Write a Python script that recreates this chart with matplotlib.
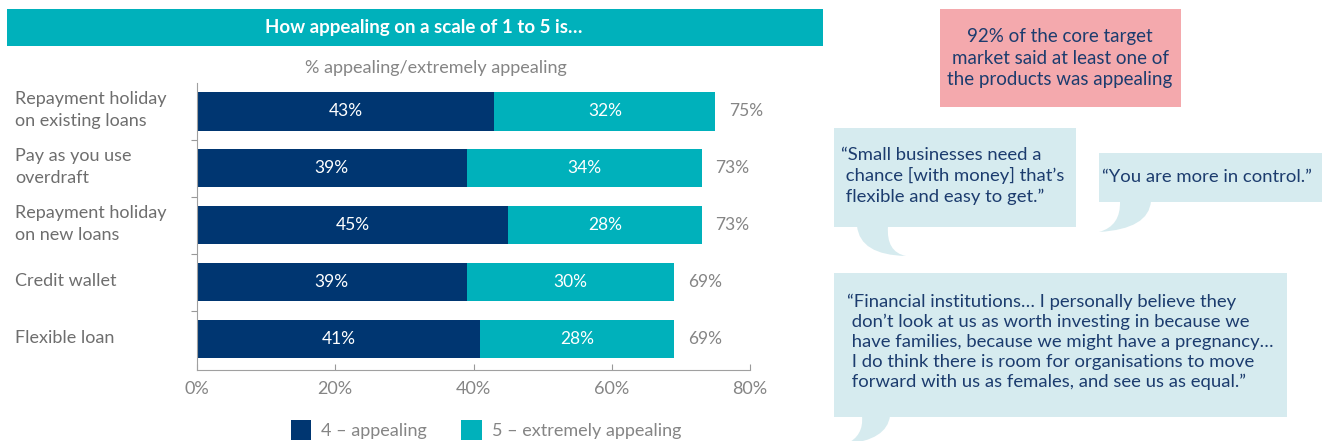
import matplotlib
matplotlib.use("Agg")
import matplotlib.pyplot as plt
from matplotlib.patches import Rectangle, PathPatch
from matplotlib.path import Path

plt.rcParams["font.family"] = ["Lato", "DejaVu Sans"]

# ---- data ----
categories = [
    "Repayment holiday\non existing loans",
    "Pay as you use\noverdraft",
    "Repayment holiday\non new loans",
    "Credit wallet",
    "Flexible loan",
]
appealing = [43, 39, 45, 39, 41]
extremely = [32, 34, 28, 30, 28]
totals = [75, 73, 73, 69, 69]
series_names = ["4 \u2013 appealing", "5 \u2013 extremely appealing"]
x_ticks = [0, 20, 40, 60, 80]

NAVY = "#003671"
TEAL = "#00B1BB"
BUBBLE = "#D6EBEF"
PINK = "#F4A9AD"
QUOTE = "#1C3C6E"
GREY = "#858585"
LABEL = "#6E6E6E"

W, H = 1322, 441
fig = plt.figure(figsize=(W / 100, H / 100), dpi=100)

# overlay in pixel coordinates for header, boxes and speech bubbles
ov = fig.add_axes([0, 0, 1, 1])
ov.set_xlim(0, W); ov.set_ylim(H, 0); ov.axis("off")

ov.add_patch(Rectangle((7, 9), 816, 37, facecolor=TEAL, edgecolor="none"))
ov.text(424, 27.5, "How appealing on a scale of 1 to 5 is\u2026", color="white",
        fontsize=13.5, fontweight="bold", ha="center", va="center")
ov.text(436, 68, "% appealing/extremely appealing", color=GREY, fontsize=13,
        ha="center", va="center")

# ---- bar chart ----
ax = fig.add_axes([197 / W, 1 - 370 / H, 553 / W, 287 / H])
ypos = list(range(len(categories)))
b1 = ax.barh(ypos, appealing, height=0.67, color=NAVY, label=series_names[0])
b2 = ax.barh(ypos, extremely, left=appealing, height=0.67, color=TEAL,
             label=series_names[1])
ax.bar_label(b1, labels=[f"{v}%" for v in appealing], label_type="center",
             color="white", fontsize=12.5)
ax.bar_label(b2, labels=[f"{v}%" for v in extremely], label_type="center",
             color="white", fontsize=12.5)
for y, a, e, t in zip(ypos, appealing, extremely, totals):
    ax.annotate(f"{t}%", (a + e, y), xytext=(10, 0), textcoords="offset points",
                va="center", ha="left", color=GREY, fontsize=12.5)

ax.set_xlim(0, 80)
ax.set_ylim(4.54, -0.5)
ax.set_xticks(x_ticks)
ax.set_xticklabels([f"{v}%" for v in x_ticks], color=GREY, fontsize=13)
ax.set_yticks([i + 0.5 for i in ypos[:-1]])
ax.set_yticklabels([])
ax.tick_params(axis="y", length=4, color="#999999")
ax.tick_params(axis="x", length=4, direction="in", color="#999999", pad=8)
for s in ("top", "right"):
    ax.spines[s].set_visible(False)
for s in ("left", "bottom"):
    ax.spines[s].set_color("#a0a0a0")
for y, c in zip(ypos, categories):
    ax.annotate(c, (0, y), xycoords=("figure fraction", "data"),
                xytext=(11, 1), textcoords="offset points",
                va="center", ha="left", color=LABEL, fontsize=13,
                linespacing=1.4)

fig.legend(handles=[b1, b2], loc="center", bbox_to_anchor=(486 / W, 1 - 430 / H),
           ncol=2, frameon=False, fontsize=13, labelcolor=GREY,
           handlelength=1.15, handleheight=1.3, handletextpad=0.55,
           columnspacing=1.9)

# ---- right-hand call-outs ----
ov.add_patch(Rectangle((940, 9), 241, 98, facecolor=PINK, edgecolor="none"))
ov.text(1060, 58, "92% of the core target\nmarket said at least one of\nthe products was appealing",
        color=QUOTE, fontsize=13.5, ha="center", va="center", linespacing=1.3)


def tail(p0, c0, tip, c1, p1):
    verts = [p0, c0, tip, c1, p1, p0]
    codes = [Path.MOVETO, Path.CURVE3, Path.CURVE3, Path.CURVE3, Path.CURVE3,
             Path.CLOSEPOLY]
    ov.add_patch(PathPatch(Path(verts, codes), facecolor=BUBBLE, edgecolor="none"))


ov.add_patch(Rectangle((834, 128), 242, 99, facecolor=BUBBLE, edgecolor="none"))
tail((857, 226), (860, 255), (906, 256), (886, 252), (888, 226))
ov.text(841, 176, "\u201cSmall businesses need a\n chance [with money] that\u2019s\n flexible and easy to get.\u201d",
        color=QUOTE, fontsize=13.3, ha="left", va="center", linespacing=1.3)

ov.add_patch(Rectangle((1099, 153), 223, 49, facecolor=BUBBLE, edgecolor="none"))
tail((1151, 201), (1149, 229), (1099, 232), (1121, 226), (1120, 201))
ov.text(1207, 177, "\u201cYou are more in control.\u201d", color=QUOTE, fontsize=13.3,
        ha="center", va="center")

ov.add_patch(Rectangle((834, 273), 453, 144, facecolor=BUBBLE, edgecolor="none"))
tail((890, 416), (887, 440), (846, 444), (864, 436), (862, 416))
ov.text(847, 342,
        "\u201cFinancial institutions\u2026 I personally believe they\n"
        " don\u2019t look at us as worth investing in because we\n"
        " have families, because we might have a pregnancy\u2026\n"
        " I do think there is room for organisations to move\n"
        " forward with us as females, and see us as equal.\u201d",
        color=QUOTE, fontsize=13.3, ha="left", va="center", linespacing=1.3)

fig.savefig("out.png", dpi=100)
